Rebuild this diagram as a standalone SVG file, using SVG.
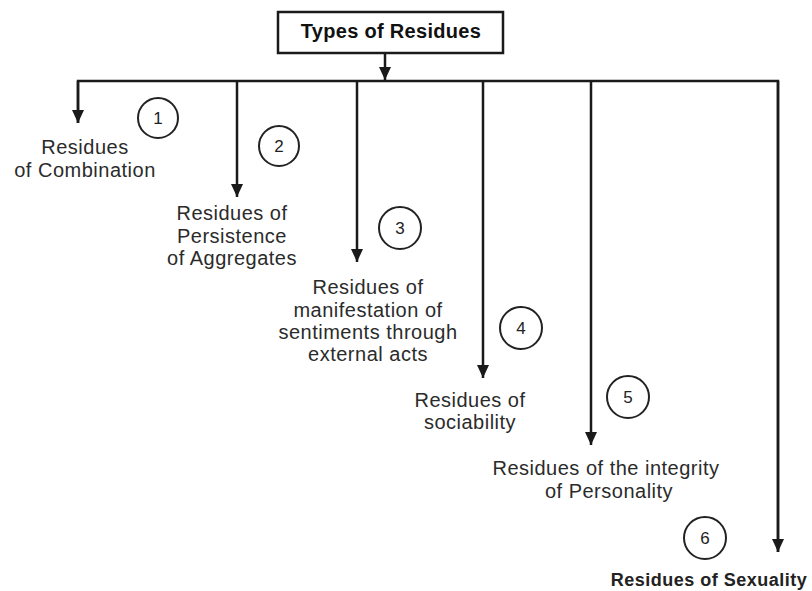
<svg xmlns="http://www.w3.org/2000/svg" width="812" height="591" viewBox="0 0 812 591">
<style>
.line{stroke:#1a1a1a;stroke-width:2.5;fill:none}
.lbl{font-family:"Liberation Sans",Arial,sans-serif;font-size:20px;letter-spacing:0.5px;fill:#2b2b2b;text-anchor:middle}
.num{font-family:"Liberation Sans",Arial,sans-serif;font-size:17px;fill:#222;text-anchor:middle}
.circ{fill:none;stroke:#222;stroke-width:2}
.title{font-family:"Liberation Sans",Arial,sans-serif;font-size:20px;font-weight:bold;letter-spacing:0.3px;fill:#111;text-anchor:middle}
.bold{font-family:"Liberation Sans",Arial,sans-serif;font-size:18px;font-weight:bold;letter-spacing:0.5px;fill:#222;text-anchor:middle}
</style>
<defs>
<marker id="ah" markerUnits="userSpaceOnUse" markerWidth="14" markerHeight="14" viewBox="0 0 14 14" refX="13" refY="7" orient="auto">
<path d="M0,1 L13,7 L0,13 Z" fill="#1a1a1a"/>
</marker>
</defs>
<rect width="812" height="591" fill="#fff"/>
<g id="root">
<rect x="278" y="12" width="225" height="41" fill="#fff" stroke="#1a1a1a" stroke-width="2.5"/>
<text class="title" x="391" y="38">Types of Residues</text>
</g>
<g id="connectors">
<line class="line" x1="385" y1="53" x2="385" y2="80" marker-end="url(#ah)"/>
<polyline class="line" points="78,123 78,81 778,81 778,552"/>
<line class="line" x1="78" y1="81" x2="78" y2="123" marker-end="url(#ah)"/>
<line class="line" x1="237" y1="81" x2="237" y2="197" marker-end="url(#ah)"/>
<line class="line" x1="357" y1="81" x2="357" y2="262" marker-end="url(#ah)"/>
<line class="line" x1="483" y1="81" x2="483" y2="378" marker-end="url(#ah)"/>
<line class="line" x1="591" y1="81" x2="591" y2="445" marker-end="url(#ah)"/>
<line class="line" x1="778" y1="81" x2="778" y2="552" marker-end="url(#ah)"/>
</g>
<g id="n1">
<circle class="circ" cx="158" cy="118" r="20"/>
<text class="num" x="158" y="124">1</text>
<text class="lbl" x="85" y="154">Residues</text>
<text class="lbl" x="85" y="177">of Combination</text>
</g>
<g id="n2">
<circle class="circ" cx="279" cy="146" r="20"/>
<text class="num" x="279" y="152">2</text>
<text class="lbl" x="232" y="220">Residues of</text>
<text class="lbl" x="232" y="243">Persistence</text>
<text class="lbl" x="232" y="265">of Aggregates</text>
</g>
<g id="n3">
<circle class="circ" cx="400" cy="228" r="21"/>
<text class="num" x="400" y="234">3</text>
<text class="lbl" x="368" y="294">Residues of</text>
<text class="lbl" x="368" y="317">manifestation of</text>
<text class="lbl" x="368" y="339">sentiments through</text>
<text class="lbl" x="368" y="361">external acts</text>
</g>
<g id="n4">
<circle class="circ" cx="521" cy="328" r="21"/>
<text class="num" x="521" y="334">4</text>
<text class="lbl" x="470" y="407">Residues of</text>
<text class="lbl" x="470" y="429">sociability</text>
</g>
<g id="n5">
<circle class="circ" cx="628" cy="397" r="21"/>
<text class="num" x="628" y="403">5</text>
<text class="lbl" x="606" y="475">Residues of the integrity</text>
<text class="lbl" x="609" y="498">of Personality</text>
</g>
<g id="n6">
<circle class="circ" cx="705" cy="538" r="21"/>
<text class="num" x="705" y="544">6</text>
<text class="bold" x="709" y="586">Residues of Sexuality</text>
</g>
</svg>
